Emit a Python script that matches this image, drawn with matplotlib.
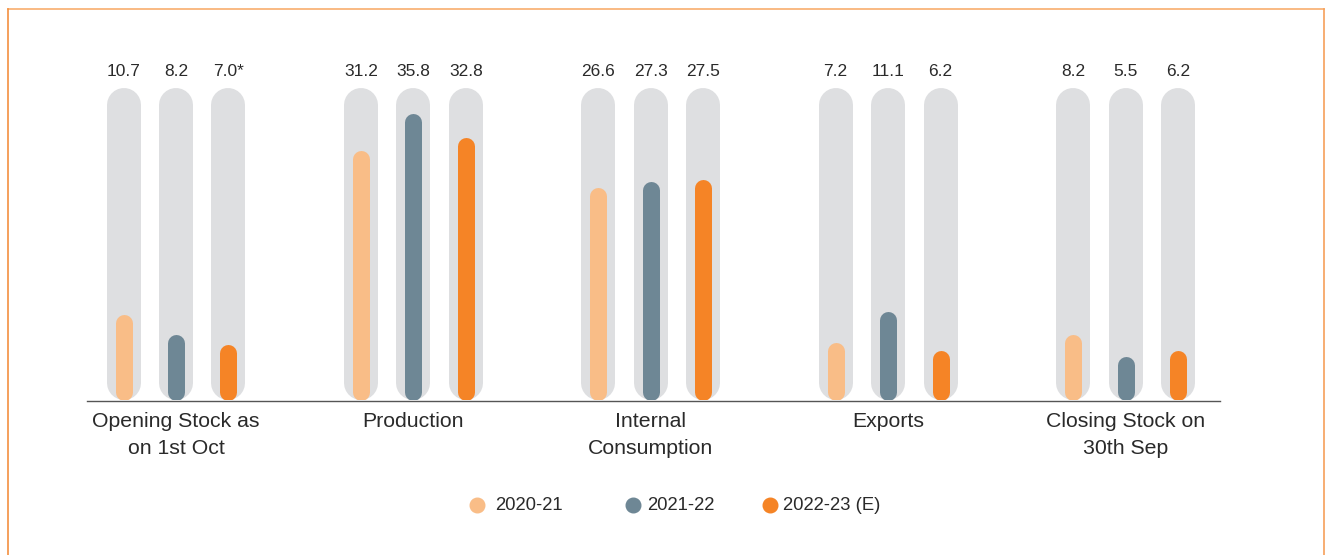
import matplotlib
matplotlib.use("Agg")
import matplotlib.pyplot as plt
from matplotlib.lines import Line2D
import numpy as np

categories = ["Opening Stock as\non 1st Oct", "Production", "Internal\nConsumption",
              "Exports", "Closing Stock on\n30th Sep"]
series_names = ["2020-21", "2021-22", "2022-23 (E)"]
v2020 = [10.7, 31.2, 26.6, 7.2, 8.2]
v2021 = [8.2, 35.8, 27.3, 11.1, 5.5]
v2022 = [7.0, 32.8, 27.5, 6.2, 6.2]
labels2022 = ["7.0*", "32.8", "27.5", "6.2", "6.2"]
capsule_max = 39.0

colors = ["#F9BD87", "#6E8795", "#F58426"]
gray = "#DEDFE1"
txt = "#2a2a2a"

plt.rcParams['font.family'] = ['Liberation Sans', 'DejaVu Sans']

W, H, DPI = 1330, 555, 100
fig = plt.figure(figsize=(W / DPI, H / DPI), dpi=DPI)
ax_left, ax_right = 87, 1220
ax_top, ax_bottom = 88, 400
ax = fig.add_axes([ax_left / W, (H - ax_bottom) / H, (ax_right - ax_left) / W, (ax_bottom - ax_top) / H])
ax.set_xlim(-0.375, 4.398)
ax.set_ylim(0, capsule_max)
ax.axis('off')

px_per_unit = (ax_bottom - ax_top) / capsule_max
offset = 52.5 / 237.5
gray_w_px, col_w_px = 34, 17
gray_lw = gray_w_px * 72 / DPI
col_lw = col_w_px * 72 / DPI
r_gray = gray_w_px / 2 / px_per_unit
r_col = col_w_px / 2 / px_per_unit

series = [v2020, v2021, v2022]
text_labels = [[f"{v:.1f}" for v in v2020], [f"{v:.1f}" for v in v2021], labels2022]
for s, vals in enumerate(series):
    for i, v in enumerate(vals):
        x = i + (s - 1) * offset
        ax.plot([x, x], [r_gray, capsule_max - r_gray], color=gray, lw=gray_lw,
                solid_capstyle='round', zorder=1)
        ax.plot([x, x], [r_col, v - r_col], color=colors[s], lw=col_lw,
                solid_capstyle='round', zorder=2)
        ax.text(x, capsule_max + 16 / px_per_unit, text_labels[s][i], ha='center', va='center',
                fontsize=12.5, color=txt, clip_on=False)

# baseline
fig.add_artist(Line2D([ax_left / W, ax_right / W], [(H - 400.5) / H] * 2, color='#555555', lw=1.0))

for i, c in enumerate(categories):
    ax.text(i, -12 / px_per_unit, c, ha='center', va='top', fontsize=15.3,
            color=txt, linespacing=1.52, clip_on=False)

# legend
leg_y = (H - 505) / H
leg_items = [(477, 495), (633, 647), (770, 783)]
for (mx, tx), name, col in zip(leg_items, series_names, colors):
    fig.add_artist(Line2D([mx / W], [leg_y], marker='o', markersize=10.5, color=col, lw=0))
    fig.text(tx / W, leg_y, name, ha='left', va='center', fontsize=13.3, color=txt)

# frame
fig.add_artist(Line2D([8 / W, 1324 / W], [(H - 9) / H] * 2, color='#F8AE6E', lw=1.2))
fig.add_artist(Line2D([8 / W, 8 / W], [0, (H - 9) / H], color='#F39041', lw=1.2))
fig.add_artist(Line2D([1324 / W, 1324 / W], [0, (H - 9) / H], color='#F6A05A', lw=1.2))

fig.savefig("out.png", dpi=DPI)
